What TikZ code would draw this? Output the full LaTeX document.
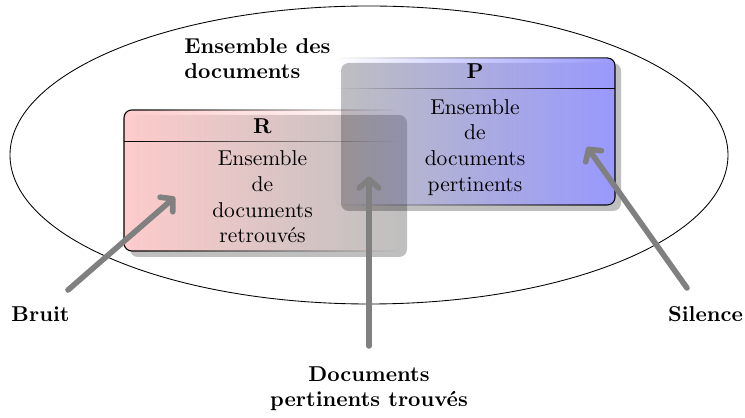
\documentclass[tikz,border=0pt]{standalone}
\usetikzlibrary{arrows.meta,fadings}

% horizontal fadings: opaque on the left / opaque on the right
\tikzfading[name=fadeoutright, left color=transparent!0, right color=transparent!100]
\tikzfading[name=fadeinright, left color=transparent!100, right color=transparent!0]

\tikzset{
  setbox/.style={rounded corners=3.6pt, line width=0.5pt},
  boxshadow/.style={rounded corners=3.6pt, fill=black, fill opacity=0.25},
  boxtitle/.style={font=\bfseries, anchor=base, inner sep=0pt},
  boxtext/.style={align=center, anchor=base, inner sep=0pt},
  lbl/.style={font=\bfseries, align=center, anchor=base, inner sep=0pt},
  pointer/.style={draw=gray, line width=2.6pt, line cap=round,
    -{Straight Barb[length=4pt,width=9pt,round]}},
}

\begin{document}
\begin{tikzpicture}[x=0.465pt, y=-0.465pt]
\useasboundingbox (0,0) rectangle (745,418);

% universe of documents
\draw[line width=0.4pt] (369,155) ellipse [x radius=359, y radius=149];

% retrieved set R
\fill[boxshadow] (130,115) rectangle (407,257);
\draw[setbox, fill=red!20, path fading=fadeoutright] (124,110) rectangle (401,251);
\fill[path fading=fadeoutright] (124,140.7) rectangle (401,141.5);

% relevant set P
\fill[boxshadow] (341,63) rectangle (621,211);
\draw[setbox, fill=blue!40, path fading=fadeinright] (335,58) rectangle (615,205);
\fill[path fading=fadeinright] (335,87.7) rectangle (615,88.5);

% texts (multi-line nodes are anchored on the baseline of their last line)
\node[boxtitle] (rtitle) at (262.5,134) {R};
\node[boxtext] (rtext) at (262.5,243) {Ensemble\\de\\documents\\retrouvés};
\node[boxtitle] (ptitle) at (475,79) {P};
\node[boxtext] (ptext) at (475,191.5) {Ensemble\\de\\documents\\pertinents};
\node[lbl, align=left, anchor=base west] (all) at (184,79) {Ensemble des\\documents};
\node[lbl] (bruit) at (40.5,321.7) {Bruit};
\node[lbl] (silence) at (705.5,321.7) {Silence};
\node[lbl] (both) at (369,407) {Documents\\pertinents trouvés};

% pointers
\coordinate (bruit-from) at (68,290);
\coordinate (bruit-to) at (175,197);
\coordinate (both-from) at (369,346);
\coordinate (both-to) at (369,176.5);
\coordinate (silence-from) at (687,288);
\coordinate (silence-to) at (587,147);
\draw[pointer] (bruit-from) -- (bruit-to);
\draw[pointer] (both-from) -- (both-to);
\draw[pointer] (silence-from) -- (silence-to);
\end{tikzpicture}
\end{document}
